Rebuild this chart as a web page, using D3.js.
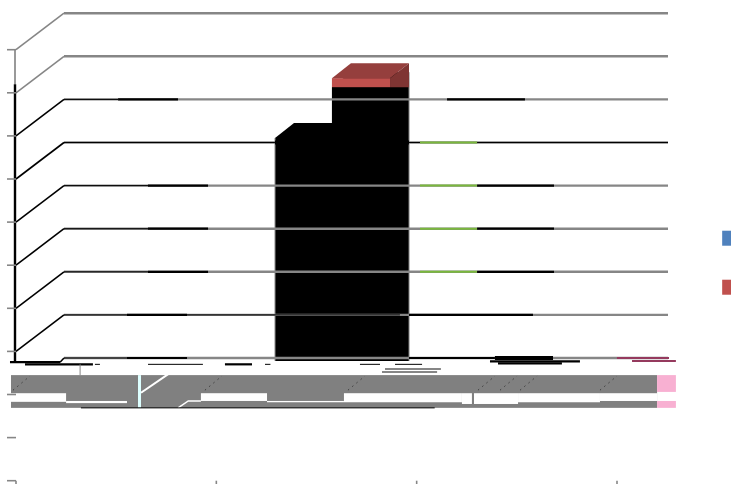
<!DOCTYPE html>
<html>
<head>
<meta charset="utf-8">
<script src="https://cdn.jsdelivr.net/npm/d3@7"></script>
<style>
  html, body { margin: 0; background: #fff; }
  svg { display: block; }
</style>
</head>
<body>
<figure id="chart" style="margin:0"></figure>
<script>
// value ticks on the front axis
const tickValues = [0, 10, 20, 30, 40, 50, 60, 70, 80, 90, 100];
// the back wall only draws from 20 up, the rest is lost in the broken render
const wallValues = [100, 90, 80, 70, 60, 50, 40, 30, 20];
const categoryTicks = [1, 2, 3];

// columns: left edge, right edge (category units), base and top value
const columnLeft = [1.293, 1.577];
const columnRight = [1.577, 1.867];
const columnTop = [79.5, 91.3];
const columnBase = 27.8;
const redTop = 93.4;

// coloured runs along the wall lines: value, from, to, colour key
const wallRuns = [
    [80, 0, 0.27, "thin"], [80, 0.27, 0.569, "black"], [80, 1.912, 2.301, "black"],
    [70, 0, 1.053, "thin"], [70, 1.053, 1.722, "heavy"], [70, 1.722, 1.777, "thin"], [70, 1.777, 2.062, "green"], [70, 2.062, 3.015, "thin"],
    [60, 0, 0.419, "thin"], [60, 0.419, 0.719, "black"], [60, 1.777, 2.062, "green"], [60, 2.062, 2.446, "black"],
    [50, 0, 0.419, "thin"], [50, 0.419, 0.719, "black"], [50, 1.777, 2.062, "green"], [50, 2.062, 2.446, "black"],
    [40, 0, 0.419, "thin"], [40, 0.419, 0.719, "black"], [40, 1.777, 2.062, "green"], [40, 2.062, 2.446, "black"],
    [30, 0, 0.314, "thin"], [30, 0.314, 0.614, "black"], [30, 0.614, 1.677, "thin"], [30, 1.722, 2.341, "black"],
    [20, 0, 0.314, "thin"], [20, 0.314, 0.614, "black"], [20, 1.722, 2.151, "black"],
    [20, 2.151, 2.441, "heavy"], [20, 2.76, 3.02, "maroon"]
];

// loose scraps under the floor: value, from, to, colour key
const floorScraps = [
    [27.5, -0.03, 0.22, "black"], [27, 0.045, 0.384, "black"], [27, 0.394, 0.419, "thin"],
    [27, 0.659, 0.933, "thin"], [27, 1.043, 1.178, "black"], [27, 1.243, 1.27, "thin"],
    [27, 1.717, 1.817, "thin"], [27, 1.892, 2.027, "thin"],
    [27.7, 2.366, 2.815, "black"], [27.2, 2.406, 2.725, "black"],
    [25.9, 1.842, 2.121, "grey"], [25.2, 1.827, 2.102, "grey"],
    [27.8, 3.075, 3.294, "maroon"]
];

// the torn band below the plot: from, to, top value, bottom value
const bandCuts = [
    [-0.025, 0.25, 20.3, 18.3], [0.25, 0.554, 18.5, 18.0],
    [0.923, 1.253, 20.3, 18.5], [1.253, 1.637, 18.5, 18.2],
    [1.637, 2.226, 20.3, 18.2], [2.226, 2.276, 20.3, 17.8],
    [2.286, 2.506, 20.3, 17.8], [2.506, 2.915, 20.3, 18.2], [2.915, 3.2, 20.3, 18.5]
];
const pinkBand = [[3.2, 3.294, 24.5, 20.6], [3.2, 3.294, 18.5, 16.9]];
const hatchStarts = [-0.015, 0.943, 1.657, 2.306, 2.416, 2.516, 2.915];

const legendColors = ["#4f81bd", "#c0504d"];

const width = 731, height = 484;
const depthX = 48, depthY = 36.5; // wall offset
const capX = 19, capY = 15; // column depth

const colors = { black: "#000", thin: "#000", heavy: "#000", grey: "#868686", green: "#7ab83c", maroon: "#953a5e" };
const widths = { black: 2.2, thin: 1, heavy: 4, grey: 2, green: 2, maroon: 2 };

const svg = d3.select("figure#chart")
    .append("svg")
    .attr("width", width)
    .attr("height", height);

const x = d3.scaleLinear().domain([0, 3]).range([16, 617]);
const y = d3.scaleLinear().domain([0, 100]).range([480.7, 49.7]);

const poly = pts => pts.map(p => p.join(",")).join(" ");

// torn band
svg.append("rect")
    .attr("x", x(-0.025)).attr("width", x(3.2) - x(-0.025))
    .attr("y", y(24.5)).attr("height", y(16.9) - y(24.5))
    .attr("fill", "#808080");
svg.selectAll("rect.pink").data(pinkBand).enter().append("rect")
    .attr("class", "pink")
    .attr("x", d => x(d[0])).attr("width", d => x(d[1]) - x(d[0]))
    .attr("y", d => y(d[2])).attr("height", d => y(d[3]) - y(d[2]))
    .attr("fill", "#f8b0d2");
svg.selectAll("rect.cut").data(bandCuts).enter().append("rect")
    .attr("class", "cut")
    .attr("x", d => x(d[0])).attr("width", d => x(d[1]) - x(d[0]))
    .attr("y", d => y(d[2])).attr("height", d => y(d[3]) - y(d[2]))
    .attr("fill", "#fff");
svg.selectAll("line.hatch").data(hatchStarts).enter().append("line")
    .attr("class", "hatch")
    .attr("x1", d => x(d)).attr("y1", y(21))
    .attr("x2", d => x(d + 0.085)).attr("y2", y(24.3))
    .attr("stroke", "#3c3c3c").attr("stroke-width", 1).attr("stroke-dasharray", "1.5 4");

// white tear through the band
svg.append("rect")
    .attr("x", x(0.609)).attr("width", x(0.624) - x(0.609))
    .attr("y", y(24.5)).attr("height", y(16.9) - y(24.5))
    .attr("fill", "#dff");
svg.append("line")
    .attr("x1", x(0.624)).attr("y1", y(20.4)).attr("x2", x(0.769)).attr("y2", y(25))
    .attr("stroke", "#fff").attr("stroke-width", 2);
svg.append("polyline")
    .attr("points", poly([[x(0.809), y(16.9)], [x(0.86), y(18.5)], [x(0.923), y(18.5)]]))
    .attr("fill", "none").attr("stroke", "#fff").attr("stroke-width", 1.5);
svg.append("line")
    .attr("x1", x(0.324)).attr("x2", x(2.09)).attr("y1", y(16.9)).attr("y2", y(16.9))
    .attr("stroke", "#000").attr("stroke-width", 1);
svg.append("rect")
    .attr("x", x(2.276)).attr("width", x(2.286) - x(2.276))
    .attr("y", y(20.3)).attr("height", y(17.8) - y(20.3))
    .attr("fill", "#808080");

// black columns
columnLeft.forEach((left, i) => {
    const x0 = x(left), x1 = x(columnRight[i]), top = y(columnTop[i]), base = y(columnBase);
    svg.append("polygon")
        .attr("points", poly([[x0, top], [x0 + capX, top - capY], [x1 + capX, top - capY], [x1 + capX, base], [x0, base]]))
        .attr("fill", "#000");
});
svg.append("line")
    .attr("x1", x(columnLeft[0])).attr("x2", x(columnLeft[0]))
    .attr("y1", y(columnTop[0])).attr("y2", y(columnBase))
    .attr("stroke", "#868686");
svg.append("line")
    .attr("x1", x(columnRight[1]) + capX).attr("x2", x(columnRight[1]) + capX)
    .attr("y1", y(columnTop[1]) - capY).attr("y2", y(columnBase))
    .attr("stroke", "#868686");

// red cap on the taller column
const capL = x(columnLeft[1]), capR = x(columnRight[1]), capTop = y(redTop), capBase = y(columnTop[1]);
svg.append("rect")
    .attr("x", capL).attr("width", capR - capL)
    .attr("y", capTop).attr("height", capBase - capTop)
    .attr("fill", legendColors[1]);
svg.append("polygon")
    .attr("points", poly([[capL, capTop], [capL + capX, capTop - capY], [capR + capX, capTop - capY], [capR, capTop]]))
    .attr("fill", "#953f3d");
svg.append("polygon")
    .attr("points", poly([[capR, capTop], [capR + capX, capTop - capY], [capR + capX, capBase], [capR, capBase]]))
    .attr("fill", "#7f3533");

// back wall lines
svg.selectAll("line.wall").data(wallValues).enter().append("line")
    .attr("class", "wall")
    .attr("x1", x(0) + depthX).attr("x2", x(3.015) + depthX)
    .attr("y1", d => y(d) - depthY).attr("y2", d => y(d) - depthY)
    .attr("stroke", "#868686").attr("stroke-width", 2.4);
svg.selectAll("line.run").data(wallRuns).enter().append("line")
    .attr("class", "run")
    .attr("x1", d => x(d[1]) + depthX).attr("x2", d => x(d[2]) + depthX)
    .attr("y1", d => y(d[0]) - depthY).attr("y2", d => y(d[0]) - depthY)
    .attr("stroke", d => colors[d[3]]).attr("stroke-width", d => widths[d[3]]);

// side wall diagonals, the two upper ones stayed grey
svg.selectAll("line.side").data(wallValues).enter().append("line")
    .attr("class", "side")
    .attr("x1", x(0)).attr("x2", x(0) + depthX)
    .attr("y1", d => d == 20 ? y(27.5) : y(d)).attr("y2", d => y(d) - depthY)
    .attr("stroke", d => d >= 90 ? "#868686" : "#000")
    .attr("stroke-width", 1.6)
    .filter(d => d == 20)
    .attr("x1", x(0.22));

// front axis and its ticks
svg.append("line")
    .attr("x1", x(0) - 1).attr("x2", x(0) - 1).attr("y1", y(100)).attr("y2", y(92))
    .attr("stroke", "#999").attr("stroke-width", 2);
svg.append("line")
    .attr("x1", x(0) - 1).attr("x2", x(0) - 1).attr("y1", y(92)).attr("y2", y(27.5))
    .attr("stroke", "#000").attr("stroke-width", 2.4);
svg.selectAll("line.tick").data(tickValues).enter().append("line")
    .attr("class", "tick")
    .attr("x1", x(0) - 9).attr("x2", x(0))
    .attr("y1", d => y(d)).attr("y2", d => y(d))
    .attr("stroke", "#868686").attr("stroke-width", 1.6);
svg.append("line")
    .attr("x1", x(0)).attr("x2", x(0)).attr("y1", y(0)).attr("y2", height)
    .attr("stroke", "#868686").attr("stroke-width", 1.6);
svg.selectAll("line.xtick").data(categoryTicks).enter().append("line")
    .attr("class", "xtick")
    .attr("x1", d => x(d)).attr("x2", d => x(d))
    .attr("y1", y(0)).attr("y2", height)
    .attr("stroke", "#868686").attr("stroke-width", 1.6);

// scraps under the floor
svg.selectAll("line.scrap").data(floorScraps).enter().append("line")
    .attr("class", "scrap")
    .attr("x1", d => x(d[1])).attr("x2", d => x(d[2]))
    .attr("y1", d => y(d[0])).attr("y2", d => y(d[0]))
    .attr("stroke", d => colors[d[3]]).attr("stroke-width", d => widths[d[3]]);
svg.append("line")
    .attr("x1", x(0.32)).attr("x2", x(0.32)).attr("y1", y(27)).attr("y2", y(24.5))
    .attr("stroke", "#868686");

// legend swatches, cut off by the right edge
svg.selectAll("rect.key").data(legendColors).enter().append("rect")
    .attr("class", "key")
    .attr("x", x(3.525)).attr("width", 9)
    .attr("y", (d, i) => y(58) + i * 49).attr("height", 15)
    .attr("fill", d => d);
</script>
</body>
</html>
